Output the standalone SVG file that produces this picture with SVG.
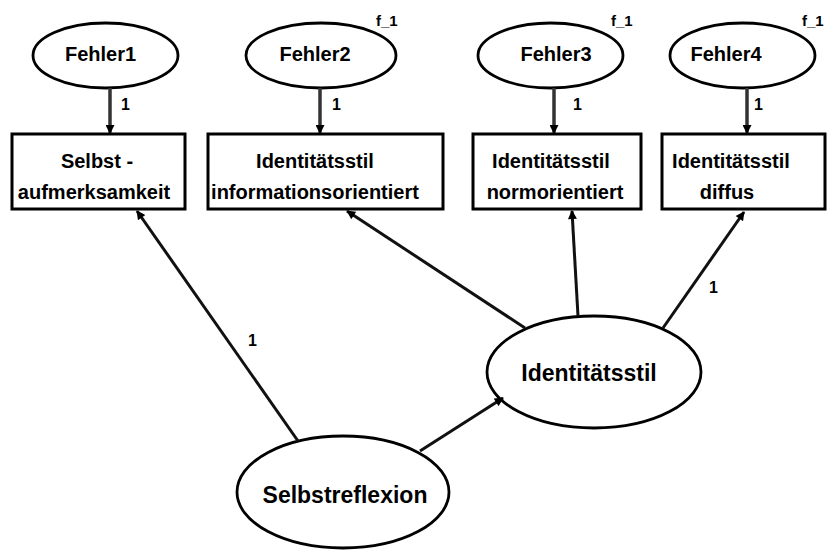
<svg xmlns="http://www.w3.org/2000/svg" width="827" height="550" viewBox="0 0 827 550">
  <defs>
    <style>
      .ell { fill: #fff; stroke: #000; stroke-width: 2.8; }
      .box { fill: #fff; stroke: #000; stroke-width: 3; }
      .lbl { font-family: "Liberation Sans", Arial, sans-serif; font-weight: bold; fill: #000; }
      .big { font-size: 23px; text-anchor: middle; }
      .mid { font-size: 20px; text-anchor: middle; }
      .err { font-size: 20px; text-anchor: middle; }
      .num { font-size: 16px; }
      .tag { font-size: 15px; }
      .edge { fill: none; stroke: #111; stroke-width: 3; marker-end: url(#head); }
      .err-edge { fill: none; stroke: #333; stroke-width: 3.5; marker-end: url(#head); }
    </style>
    <marker id="head" viewBox="0 0 10 10" refX="9" refY="5" markerUnits="userSpaceOnUse" markerWidth="10" markerHeight="9" orient="auto">
      <path d="M0,0 L10,5 L0,10 Z" fill="#000"/>
    </marker>
  </defs>

  <!-- error terms -->
  <g id="fehler1">
    <ellipse class="ell" cx="105.5" cy="55.5" rx="72.5" ry="32.5"/>
    <text class="lbl err" x="100.5" y="61">Fehler1</text>
  </g>
  <g id="fehler2">
    <ellipse class="ell" cx="321" cy="55.5" rx="75" ry="32.5"/>
    <text class="lbl err" x="315" y="61">Fehler2</text>
    <text class="lbl tag" x="376" y="26">f_1</text>
  </g>
  <g id="fehler3">
    <ellipse class="ell" cx="550.5" cy="55.5" rx="72.5" ry="32.5"/>
    <text class="lbl err" x="556" y="61">Fehler3</text>
    <text class="lbl tag" x="611" y="26">f_1</text>
  </g>
  <g id="fehler4">
    <ellipse class="ell" cx="742.5" cy="55.5" rx="72.5" ry="32.5"/>
    <text class="lbl err" x="726" y="61">Fehler4</text>
    <text class="lbl tag" x="802" y="26">f_1</text>
  </g>

  <!-- observed variables -->
  <g id="selbstaufmerksamkeit">
    <rect class="box" x="12" y="134" width="173" height="75"/>
    <text class="lbl mid" x="97" y="168">Selbst -</text>
    <text class="lbl mid" x="94" y="199">aufmerksamkeit</text>
  </g>
  <g id="informationsorientiert">
    <rect class="box" x="208" y="134" width="235" height="75"/>
    <text class="lbl mid" x="315" y="168">Identitätsstil</text>
    <text class="lbl mid" x="315" y="199">informationsorientiert</text>
  </g>
  <g id="normorientiert">
    <rect class="box" x="473" y="134" width="168" height="75"/>
    <text class="lbl mid" x="551" y="168">Identitätsstil</text>
    <text class="lbl mid" x="555" y="199">normorientiert</text>
  </g>
  <g id="diffus">
    <rect class="box" x="662" y="134" width="163" height="75"/>
    <text class="lbl mid" x="731" y="168">Identitätsstil</text>
    <text class="lbl mid" x="727" y="199">diffus</text>
  </g>

  <!-- latent variables -->
  <g id="identitaetsstil">
    <ellipse class="ell" cx="594" cy="372" rx="107" ry="56"/>
    <text class="lbl big" x="589" y="381">Identitätsstil</text>
  </g>
  <g id="selbstreflexion">
    <ellipse class="ell" cx="343" cy="492" rx="106" ry="56"/>
    <text class="lbl big" x="345" y="503">Selbstreflexion</text>
  </g>

  <!-- paths -->
  <g id="connectors">
    <line class="err-edge" x1="110" y1="88" x2="110" y2="133"/>
    <line class="err-edge" x1="320" y1="88" x2="320" y2="133"/>
    <line class="err-edge" x1="554" y1="88" x2="554" y2="133"/>
    <line class="err-edge" x1="747" y1="88" x2="747" y2="133"/>
    <line class="edge" x1="298" y1="441" x2="137" y2="211"/>
    <line class="edge" x1="525" y1="328" x2="347" y2="211"/>
    <line class="edge" x1="578" y1="316" x2="572" y2="211"/>
    <line class="edge" x1="663" y1="328" x2="744" y2="212"/>
    <line class="edge" x1="420" y1="451" x2="503" y2="398"/>
    <text class="lbl num" x="121" y="110">1</text>
    <text class="lbl num" x="332" y="110">1</text>
    <text class="lbl num" x="573" y="110">1</text>
    <text class="lbl num" x="754" y="110">1</text>
    <text class="lbl num" x="248" y="346">1</text>
    <text class="lbl num" x="709" y="293">1</text>
  </g>
</svg>
